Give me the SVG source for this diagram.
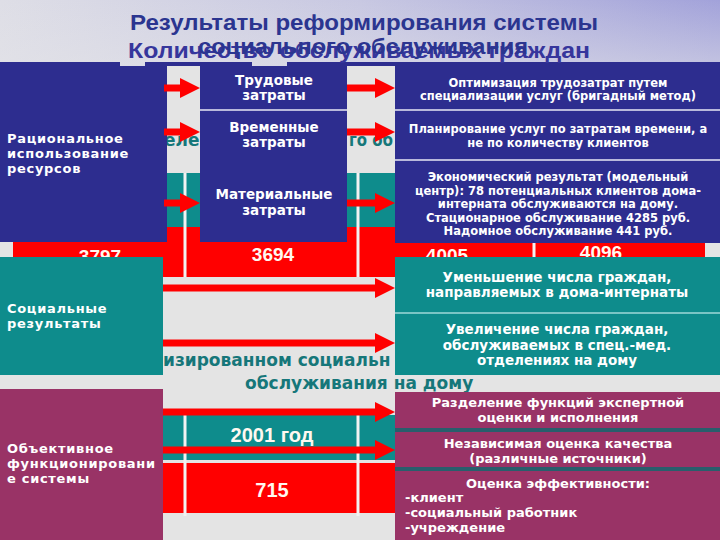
<svg xmlns="http://www.w3.org/2000/svg" width="720" height="540" viewBox="0 0 720 540">
<defs>
<linearGradient id="topg" x1="0" y1="0" x2="1" y2="0">
<stop offset="0" stop-color="#dedee6"/>
<stop offset="0.5" stop-color="#c8c8e2"/>
<stop offset="1" stop-color="#a2a2da"/>
</linearGradient>
<linearGradient id="fade" x1="0" y1="0" x2="0" y2="1">
<stop offset="0" stop-color="#e4e4e8" stop-opacity="0"/>
<stop offset="1" stop-color="#e4e4e8" stop-opacity="0.5"/>
</linearGradient>
<marker id="ah" markerUnits="userSpaceOnUse" markerWidth="22" markerHeight="22" refX="10" refY="10" orient="auto">
<path d="M0,0 L20,10 L0,20 z" fill="#f00"/>
</marker>
</defs>
<style>
.navy{fill:#2d2d8f}
.teal{fill:#0e8c8c}
.maroon{fill:#993366}
.red{fill:#ff0000}
.wl{stroke:#f2f2f2;stroke-width:3}
.div{stroke:#e8e8f4;stroke-width:1.5}
.t{font-family:"DejaVu Sans",Verdana,sans-serif;font-weight:bold;fill:#ffffff}
.lbl{font-size:13px;letter-spacing:0.7px}
.mid{font-size:13.5px;text-anchor:middle}
.rb{font-size:11.5px;text-anchor:middle}
.rt{font-size:13.5px;text-anchor:middle}
.rm{font-size:13px;text-anchor:middle}
.num{font-family:"Liberation Sans",Arial,sans-serif;font-weight:bold;font-size:19px;fill:#fff8f0;text-anchor:middle}
.bgtxt{font-family:"DejaVu Sans",Verdana,sans-serif;font-weight:bold;font-size:17px;fill:#16777a}
.ttl{font-family:"Liberation Sans",Arial,sans-serif;font-weight:bold;font-size:22px}
.arr{stroke:#f00;stroke-width:7;fill:none;marker-end:url(#ah)}
</style>

<g id="background">
<rect x="0" y="0" width="720" height="540" fill="#e4e4e4"/>
<rect x="0" y="0" width="720" height="66" fill="url(#topg)"/>
<rect x="0" y="0" width="720" height="66" fill="url(#fade)"/>
<rect x="0" y="62" width="120" height="4" fill="#2d2d8f"/>
<rect x="145" y="62" width="107" height="4" fill="#2d2d8f"/>
<rect x="287" y="62" width="433" height="4" fill="#2d2d8f"/>
</g>

<g id="table-top">
<rect x="13" y="173" width="692" height="54" class="teal"/>
<rect x="13" y="227" width="692" height="50" class="red"/>
<line x1="185" y1="173" x2="185" y2="277" class="wl"/>
<line x1="358" y1="173" x2="358" y2="277" class="wl"/>
<line x1="534" y1="227" x2="534" y2="277" class="wl"/>
<text x="100" y="263" class="num">3797</text>
<text x="273" y="261" class="num">3694</text>
<text x="447" y="262" class="num">4005</text>
<text x="601" y="259" class="num">4096</text>
</g>

<g id="table-bottom">
<rect x="163" y="415" width="557" height="45" class="teal"/>
<rect x="163" y="463" width="557" height="50" class="red"/>
<line x1="185" y1="415" x2="185" y2="516" class="wl"/>
<line x1="358" y1="415" x2="358" y2="516" class="wl"/>
<text x="272" y="442" class="num" style="font-size:20px">2001 год</text>
<text x="272" y="497" class="num" style="font-size:20px">715</text>
</g>

<g id="background-text">
<text x="164" y="146" class="bgtxt">еле</text>
<text x="349" y="146" class="bgtxt" textLength="44" lengthAdjust="spacingAndGlyphs">го об</text>
<text x="163" y="366" class="bgtxt">изированном социальн</text>
<text x="245" y="389" class="bgtxt">обслуживания на дому</text>
</g>

<g id="node-resources">
<rect x="0" y="66" width="167" height="176" class="navy"/>
<text class="t lbl"><tspan x="7" y="143">Рациональное</tspan><tspan x="7" y="158">использование</tspan><tspan x="7" y="173">ресурсов</tspan></text>
</g>

<g id="node-costs">
<rect x="200" y="66" width="147" height="176" class="navy"/>
<line x1="200" y1="110" x2="347" y2="110" class="div"/>
<text class="t mid"><tspan x="274" y="85">Трудовые</tspan><tspan x="274" y="100">затраты</tspan></text>
<text class="t mid"><tspan x="274" y="132">Временные</tspan><tspan x="274" y="147">затраты</tspan></text>
<text class="t mid"><tspan x="274" y="199">Материальные</tspan><tspan x="274" y="215">затраты</tspan></text>
</g>

<g id="node-cost-results">
<rect x="395" y="66" width="325" height="177" class="navy"/>
<line x1="395" y1="110" x2="720" y2="110" class="div"/>
<line x1="395" y1="160" x2="720" y2="160" class="div"/>
<text class="t rb"><tspan x="558" y="87">Оптимизация трудозатрат путем</tspan><tspan x="558" y="100">специализации услуг (бригадный метод)</tspan></text>
<text class="t rb"><tspan x="558" y="133">Планирование услуг по затратам времени, а</tspan><tspan x="558" y="147">не по количеству клиентов</tspan></text>
<text class="t rb"><tspan x="558" y="181">Экономический результат (модельный</tspan><tspan x="558" y="195">центр): 78 потенциальных клиентов дома-</tspan><tspan x="558" y="208">интерната обслуживаются на дому.</tspan><tspan x="558" y="222">Стационарное обслуживание 4285 руб.</tspan><tspan x="558" y="235">Надомное обслуживание 441 руб.</tspan></text>
</g>

<g id="node-social">
<rect x="0" y="257" width="163" height="118" class="teal"/>
<text class="t lbl"><tspan x="7" y="313">Социальные</tspan><tspan x="7" y="328">результаты</tspan></text>
</g>

<g id="node-social-results">
<rect x="395" y="257" width="325" height="118" class="teal"/>
<line x1="395" y1="313" x2="720" y2="313" stroke="#9fd8d8" stroke-width="1.5"/>
<text class="t rt"><tspan x="557" y="282">Уменьшение числа граждан,</tspan><tspan x="557" y="297">направляемых в дома-интернаты</tspan></text>
<text class="t rt"><tspan x="557" y="334">Увеличение числа граждан,</tspan><tspan x="557" y="350">обслуживаемых в спец.-мед.</tspan><tspan x="557" y="365">отделениях на дому</tspan></text>
</g>

<g id="node-objective">
<rect x="0" y="389" width="163" height="151" class="maroon"/>
<text class="t lbl"><tspan x="7" y="453">Объективное</tspan><tspan x="7" y="468">функционировани</tspan><tspan x="7" y="483">е системы</tspan></text>
</g>

<g id="node-objective-results">
<rect x="395" y="428" width="325" height="4" fill="#285e6c"/>
<rect x="395" y="467" width="325" height="4" fill="#285e6c"/>
<rect x="395" y="392" width="325" height="36" class="maroon"/>
<rect x="395" y="432" width="325" height="35" class="maroon"/>
<rect x="395" y="471" width="325" height="69" class="maroon"/>
<text class="t rm"><tspan x="558" y="407">Разделение функций экспертной</tspan><tspan x="558" y="422">оценки и исполнения</tspan></text>
<text class="t rm"><tspan x="558" y="448">Независимая оценка качества</tspan><tspan x="558" y="463">(различные источники)</tspan></text>
<text class="t rm"><tspan x="558" y="488">Оценка эффективности:</tspan><tspan x="405" y="502" text-anchor="start">-клиент</tspan><tspan x="405" y="517" text-anchor="start">-социальный работник</tspan><tspan x="405" y="532" text-anchor="start">-учреждение</tspan></text>
</g>

<g id="connectors">
<line x1="164" y1="88" x2="190" y2="88" class="arr"/>
<line x1="164" y1="132" x2="190" y2="132" class="arr"/>
<line x1="164" y1="203" x2="190" y2="203" class="arr"/>
<line x1="347" y1="88" x2="385" y2="88" class="arr"/>
<line x1="347" y1="132" x2="385" y2="132" class="arr"/>
<line x1="347" y1="203" x2="385" y2="203" class="arr"/>
<line x1="163" y1="288" x2="385" y2="288" class="arr"/>
<line x1="163" y1="343" x2="385" y2="343" class="arr"/>
<line x1="163" y1="412" x2="385" y2="412" class="arr"/>
<line x1="163" y1="450" x2="385" y2="450" class="arr"/>
</g>

<g id="title">
<text x="364" y="30" class="ttl" fill="#2b3590" text-anchor="middle" textLength="468" lengthAdjust="spacingAndGlyphs">Результаты реформирования системы</text>
<text x="128" y="58" class="ttl" fill="#36369c" textLength="462" lengthAdjust="spacingAndGlyphs">Количество обслуживаемых граждан</text>
<text x="198" y="54" class="ttl" fill="#2b3590" textLength="330" lengthAdjust="spacingAndGlyphs">социального обслуживания</text>
</g>
</svg>
